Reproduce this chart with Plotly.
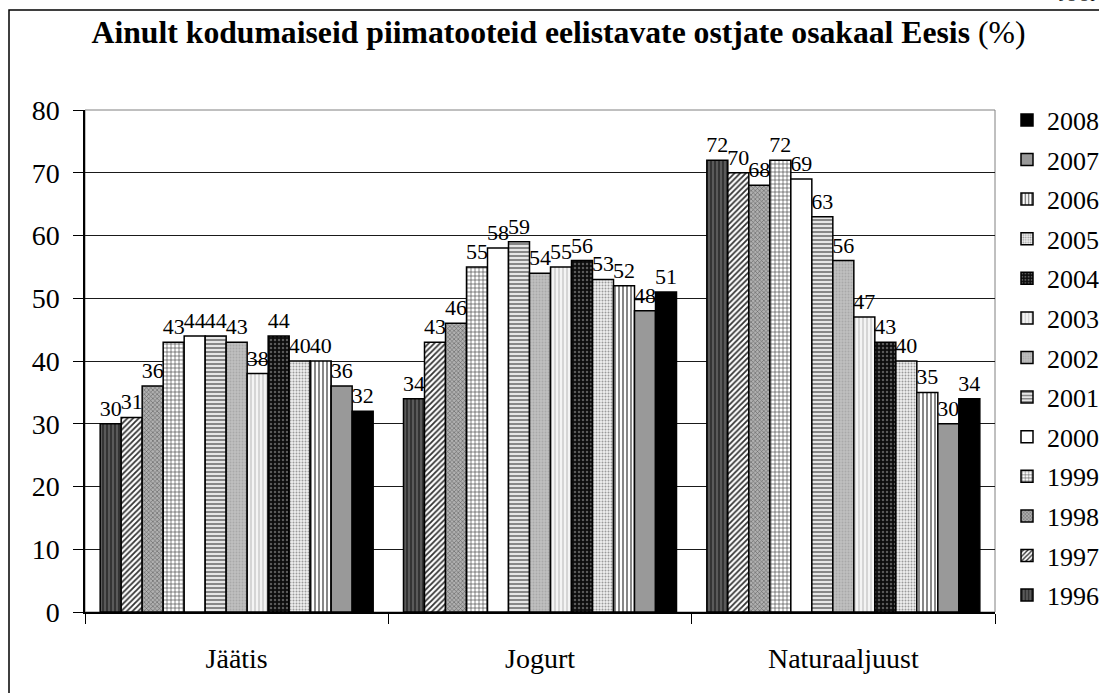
import plotly.graph_objects as go

# Product categories and survey years
categories = ["Jäätis", "Jogurt", "Naturaaljuust"]
years = [1996, 1997, 1998, 1999, 2000, 2001, 2002, 2003, 2004, 2005, 2006, 2007, 2008]

# Share (%) of buyers preferring only domestic dairy products, per year: [Jäätis, Jogurt, Naturaaljuust]
share_1996 = [30, 34, 72]
share_1997 = [31, 43, 70]
share_1998 = [36, 46, 68]
share_1999 = [43, 55, 72]
share_2000 = [44, 58, 69]
share_2001 = [44, 59, 63]
share_2002 = [43, 54, 56]
share_2003 = [38, 55, 47]
share_2004 = [44, 56, 43]
share_2005 = [40, 53, 40]
share_2006 = [40, 52, 35]
share_2007 = [36, 48, 30]
share_2008 = [32, 51, 34]

y_ticks = [0, 10, 20, 30, 40, 50, 60, 70, 80]

series = [share_1996, share_1997, share_1998, share_1999, share_2000, share_2001,
          share_2002, share_2003, share_2004, share_2005, share_2006, share_2007,
          share_2008]

# Monochrome fill styles (pattern shape, background, foreground, pattern size, solidity)
fill_styles = {
    1996: dict(shape="|", bgcolor="#5a5a5a", fgcolor="#2a2a2a", size=4, solidity=0.4),
    1997: dict(shape="/", bgcolor="#ffffff", fgcolor="#333333", size=4, solidity=0.45),
    1998: dict(shape="x", bgcolor="#b0b0b0", fgcolor="#606060", size=3, solidity=0.35),
    1999: dict(shape="+", bgcolor="#ffffff", fgcolor="#444444", size=4, solidity=0.3),
    2000: dict(shape="", bgcolor="#ffffff", fgcolor="#ffffff", size=4, solidity=0.3),
    2001: dict(shape="-", bgcolor="#e6e6e6", fgcolor="#707070", size=4, solidity=0.4),
    2002: dict(shape=".", bgcolor="#c0c0c0", fgcolor="#a8a8a8", size=3, solidity=0.3),
    2003: dict(shape="|", bgcolor="#f4f4f4", fgcolor="#c8c8c8", size=4, solidity=0.35),
    2004: dict(shape=".", bgcolor="#0d0d0d", fgcolor="#5a5a5a", size=4, solidity=0.3),
    2005: dict(shape=".", bgcolor="#f0f0f0", fgcolor="#9a9a9a", size=3, solidity=0.35),
    2006: dict(shape="|", bgcolor="#ffffff", fgcolor="#7a7a7a", size=4, solidity=0.45),
    2007: dict(shape="", bgcolor="#999999", fgcolor="#999999", size=4, solidity=0.3),
    2008: dict(shape="", bgcolor="#000000", fgcolor="#000000", size=4, solidity=0.3),
}

SERIF = "Liberation Serif"

fig = go.Figure()
for year, values in zip(years, series):
    st = fill_styles[year]
    fig.add_trace(go.Bar(
        name=str(year),
        legendgroup=str(year),
        legendrank=3000 - year,
        x=categories,
        y=values,
        text=[str(v) for v in values],
        textposition="outside",
        constraintext="none",
        cliponaxis=False,
        textfont=dict(family=SERIF, size=22, color="#000000"),
        marker=dict(
            color=st["bgcolor"],
            line=dict(color="#000000", width=1.5),
            pattern=dict(
                shape=st["shape"],
                bgcolor=st["bgcolor"],
                fgcolor=st["fgcolor"],
                size=st["size"],
                solidity=st["solidity"],
                fillmode="replace",
            ),
        ),
        hoverinfo="skip",
    ))

fig.update_layout(
    width=1099,
    height=693,
    margin=dict(l=85, r=104, t=110, b=81, autoexpand=False),
    paper_bgcolor="#ffffff",
    plot_bgcolor="#ffffff",
    barmode="group",
    bargap=0.1,
    bargroupgap=0.0,
    font=dict(family=SERIF, color="#000000"),
    title=dict(
        text="<b>Ainult kodumaiseid piimatooteid eelistavate ostjate osakaal Eesis</b> (%)",
        font=dict(family=SERIF, size=31.7, color="#000000"),
        x=558.5 / 1099,
        xanchor="center",
        xref="container",
        y=1 - 32 / 693,
        yanchor="middle",
        yref="container",
    ),
    legend=dict(
        xref="container",
        yref="container",
        x=1007 / 1099,
        xanchor="left",
        y=1 - 96.5 / 693,
        yanchor="top",
        traceorder="grouped",
        tracegroupgap=2.8,
        maxheight=680,
        font=dict(family=SERIF, size=26, color="#000000"),
        bgcolor="rgba(0,0,0,0)",
        borderwidth=0,
    ),
    showlegend=True,
)

fig.update_xaxes(
    type="category",
    categoryorder="array",
    categoryarray=categories,
    range=[-0.5, 2.5],
    tickson="boundaries",
    ticks="outside",
    ticklen=10,
    tickwidth=1,
    tickcolor="#000000",
    showline=True,
    linecolor="#000000",
    linewidth=1.5,
    showgrid=False,
    ticklabelstandoff=21,
    tickfont=dict(family=SERIF, size=28, color="#000000"),
)

fig.update_yaxes(
    range=[0, 80],
    tickvals=y_ticks,
    ticktext=[str(v) for v in y_ticks],
    ticks="outside",
    ticklen=10,
    tickwidth=1,
    tickcolor="#000000",
    showline=True,
    linecolor="#000000",
    linewidth=1.5,
    showgrid=True,
    gridcolor="#1a1a1a",
    gridwidth=1,
    zeroline=False,
    ticklabelstandoff=8,
    tickfont=dict(family=SERIF, size=28, color="#000000"),
)

# Plot-area border (top and right sides)
fig.add_shape(type="rect", xref="paper", yref="paper", x0=0, x1=1, y0=0, y1=1,
              line=dict(color="#808080", width=1), layer="below")

# Outer chart frame, running off the right and bottom page edges
fig.add_shape(type="rect", xref="paper", yref="paper",
              x0=(9 - 85) / 910, x1=1.3, y0=-0.4, y1=(612 - 10) / 502,
              line=dict(color="#000000", width=1.5), layer="above")

# Page heading running off the top edge
fig.add_annotation(text="JOONIS", xref="paper", yref="paper",
                   x=(1057 - 85) / 910, xanchor="left",
                   y=(612 - 7.5) / 502, yanchor="bottom",
                   showarrow=False,
                   font=dict(family=SERIF, size=17, color="#000000"))

fig.write_html("out.html")
